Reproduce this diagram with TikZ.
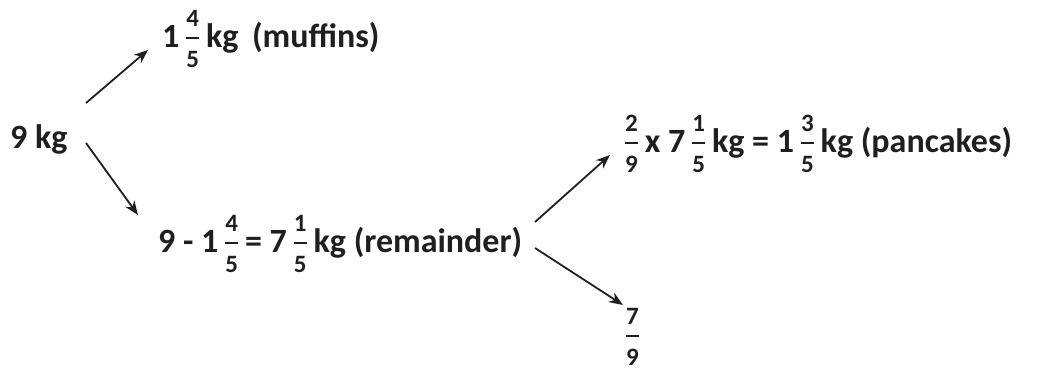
\documentclass[tikz,border=0pt]{standalone}
\usepackage{fontspec}
\setmainfont{Carlito}
\usetikzlibrary{arrows.meta}
\newcommand\fr[2]{\kern7pt\begingroup\fontsize{25}{25}\selectfont
\setbox0\hbox{#1}\setbox2\hbox{#2}%
\dimen0=\ifdim\wd0>\wd2 \wd0\else\wd2\fi
\rlap{\raisebox{21pt}{\hbox to\dimen0{\hss\box0\hss}}}%
\rlap{\raisebox{-20pt}{\hbox to\dimen0{\hss\box2\hss}}}%
\rule[8.5pt]{\dimen0}{1.6pt}%
\endgroup\kern7pt}
\tikzset{
  lbl/.style={inner sep=0pt, anchor=base west, font=\fontsize{34}{38}\selectfont\bfseries, text=black!88},
  arr/.style={line width=1.8pt, draw=black!88, -{Stealth[length=14pt,width=11pt]}}
}
\begin{document}
\begin{tikzpicture}[x=1pt,y=-1pt]
\useasboundingbox (0,0) rectangle (1042,373);
\node[lbl] (nine) at (10,148) {9 kg};
\node[lbl] (muf) at (162,47) {1\fr45kg\hspace{0.4em}(muffins)};
\node[lbl] (rem) at (158,252) {9 - 1\fr45= 7\fr15kg (remainder)};
\node[lbl] (pan) at (618,152) {\fr29x 7\fr15kg = 1\fr35kg (pancakes)};
\node[lbl] (sev) at (619,345) {\fr79};
\draw[arr] ([shift={(76,-45)}]nine.base west) -- ([shift={(-14,3)}]muf.base west);
\draw[arr] ([shift={(76,-5)}]nine.base west) -- ([shift={(-20,-37)}]rem.base west);
\draw[arr] ([shift={(377,-30)}]rem.base west) -- ([shift={(-8,3)}]pan.base west);
\draw[arr] ([shift={(377,-4)}]rem.base west) -- ([shift={(4,-40)}]sev.base west);
\end{tikzpicture}
\end{document}
